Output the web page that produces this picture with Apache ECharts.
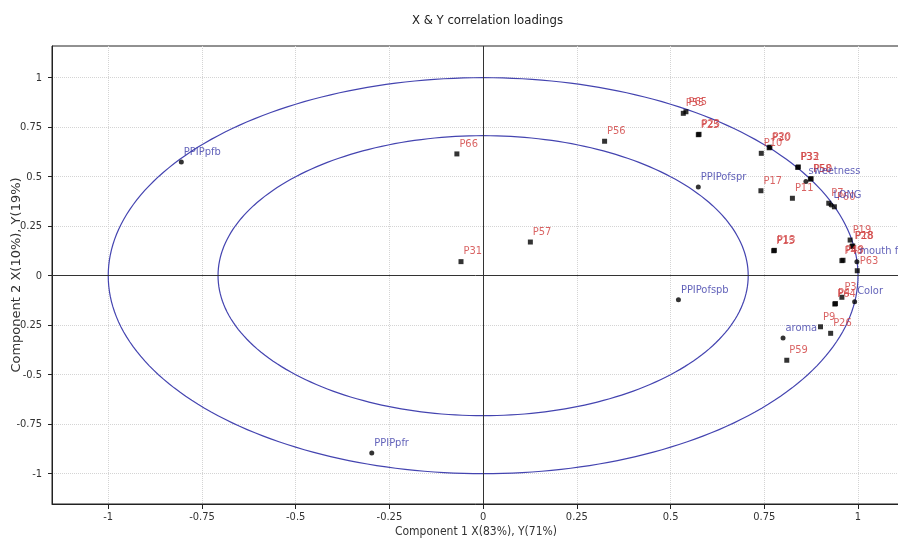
<!DOCTYPE html>
<html>
<head>
<meta charset="utf-8">
<script src="https://cdn.jsdelivr.net/npm/echarts@6/dist/echarts.min.js"></script>
<style>
  html, body { margin: 0; padding: 0; background: #fff; }
  #main { width: 898px; height: 542px; }
</style>
</head>
<body>
<div id="main"></div>
<script>
// Y variables (squares, red labels)
const pNames = ['P66', 'P31', 'P57', 'P56', 'P55', 'P65', 'P25', 'P23', 'P10', 'P30', 'P20', 'P17',
  'P33', 'P32', 'P58', 'P50', 'P11', 'P7', 'P60', 'P15', 'P13', 'P19', 'P28', 'P18', 'P48', 'P49',
  'P63', 'P3', 'P64', 'P4', 'P9', 'P26', 'P59']
const pX = [-0.070, -0.059, 0.126, 0.324, 0.534, 0.541, 0.574, 0.576, 0.742, 0.763, 0.765, 0.741,
  0.839, 0.841, 0.873, 0.875, 0.825, 0.922, 0.937, 0.775, 0.777, 0.979, 0.984, 0.986, 0.957, 0.960,
  0.998, 0.957, 0.938, 0.940, 0.900, 0.927, 0.810]
const pY = [0.615, 0.071, 0.170, 0.679, 0.820, 0.828, 0.712, 0.714, 0.618, 0.646, 0.649, 0.429,
  0.547, 0.549, 0.488, 0.490, 0.391, 0.366, 0.348, 0.126, 0.128, 0.180, 0.148, 0.150, 0.076, 0.078,
  0.025, -0.109, -0.143, -0.141, -0.258, -0.291, -0.427]

// X variables (dots, blue labels)
const attrNames = ['PPIPpfb', 'PPIPpfr', 'PPIPofspb', 'PPIPofspr', 'sweetness', 'LONG', 'mouth feel', 'Color', 'aroma']
const attrX = [-0.805, -0.297, 0.521, 0.574, 0.861, 0.928, 0.997, 0.991, 0.800]
const attrY = [0.574, -0.895, -0.121, 0.448, 0.476, 0.357, 0.071, -0.131, -0.315]

// correlation circles (100% and 50% explained variance)
const radii = [1, 0.7071]

const xTicks = [-1, -0.75, -0.5, -0.25, 0, 0.25, 0.5, 0.75, 1]
const yTicks = [-1, -0.75, -0.5, -0.25, 0, 0.25, 0.5, 0.75, 1]

const narrow = "'Liberation Sans Narrow', 'DejaVu Sans Condensed', 'Roboto Condensed', sans-serif"

const chart = echarts.init(document.getElementById('main'))

chart.setOption({
  backgroundColor: '#fff',
  animation: false,
  title: {
    text: 'X & Y correlation loadings',
    left: 407,
    top: 9,
    textStyle: { fontFamily: narrow, fontSize: 13, fontWeight: 'normal', color: '#222' }
  },
  grid: {
    left: 52,
    right: -2,
    top: 46,
    bottom: 38,
    show: true,
    borderColor: '#222',
    borderWidth: 1,
    outerBoundsMode: 'none'
  },
  xAxis: {
    type: 'value',
    min: -1.15,
    max: 1.112,
    name: 'Component 1 X(83%), Y(71%)',
    nameLocation: 'middle',
    nameGap: 22,
    nameMoveOverlap: false,
    nameTextStyle: { fontFamily: narrow, fontSize: 12, color: '#333' },
    axisLine: { onZero: false, lineStyle: { color: '#222' } },
    axisTick: { customValues: xTicks, length: 5, lineStyle: { color: '#222' } },
    axisLabel: { customValues: xTicks, fontFamily: narrow, fontSize: 11, color: '#333', margin: 8 },
    splitLine: { show: true, lineStyle: { color: '#d4d4d4', type: 'dotted' } }
  },
  yAxis: {
    type: 'value',
    min: -1.153,
    max: 1.160,
    name: 'Component 2 X(10%), Y(19%)',
    nameLocation: 'middle',
    nameGap: 29,
    nameMoveOverlap: false,
    nameTextStyle: { fontFamily: 'DejaVu Sans', fontSize: 13, color: '#333' },
    axisLine: { onZero: false, lineStyle: { color: '#222' } },
    axisTick: { customValues: yTicks, length: 4, lineStyle: { color: '#222' } },
    axisLabel: { customValues: yTicks, fontFamily: narrow, fontSize: 11, color: '#333', margin: 10 },
    splitLine: { show: true, lineStyle: { color: '#d4d4d4', type: 'dotted' } }
  },
  series: [
    {
      type: 'custom',
      silent: true,
      data: radii.map(r => [0, 0, r]),
      renderItem(params, api) {
        const r = api.value(2)
        const pts = []
        for (let i = 0; i <= 240; i++) {
          const t = i / 240 * Math.PI * 2
          pts.push(api.coord([r * Math.cos(t), r * Math.sin(t)]))
        }
        return {
          type: 'polyline',
          shape: { points: pts },
          style: { stroke: '#4444b0', lineWidth: 1.2, fill: null }
        }
      },
      markLine: {
        silent: true,
        symbol: 'none',
        label: { show: false },
        lineStyle: { color: '#333', type: 'solid', width: 1 },
        data: [{ xAxis: 0 }, { yAxis: 0 }]
      },
      z: 2
    },
    {
      type: 'scatter',
      symbol: 'rect',
      symbolSize: 5,
      itemStyle: { color: '#000' },
      label: {
        show: true,
        formatter: '{b}',
        position: [5, -13],
        align: 'left',
        verticalAlign: 'top',
        fontFamily: narrow,
        fontSize: 11,
        color: '#d03c3c'
      },
      data: pNames.map((n, i) => ({ name: n, value: [pX[i], pY[i]] })),
      z: 3
    },
    {
      type: 'scatter',
      symbol: 'circle',
      symbolSize: 5,
      itemStyle: { color: '#000' },
      label: {
        show: true,
        formatter: '{b}',
        position: [5, -13],
        align: 'left',
        verticalAlign: 'top',
        fontFamily: narrow,
        fontSize: 11,
        color: '#3a3aa8'
      },
      data: attrNames.map((n, i) => ({ name: n, value: [attrX[i], attrY[i]] })),
      z: 3
    }
  ]
})
</script>
</body>
</html>
